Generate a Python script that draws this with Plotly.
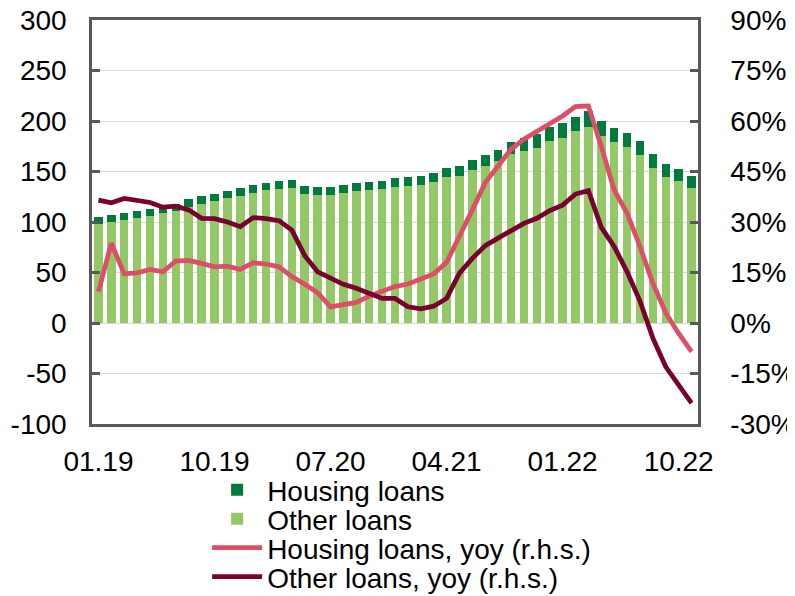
import plotly.graph_objects as go

months = ["%02d.%02d" % (m, y) for y in range(19, 23) for m in range(1, 13)][:47]
tick_labels = ["01.19", "10.19", "07.20", "04.21", "01.22", "10.22"]
left_ticks = [-100, -50, 0, 50, 100, 150, 200, 250, 300]
left_text = ["-100", "-50", "0", "50", "100", "150", "200", "250", "300"]
right_ticks = [-30, -15, 0, 15, 30, 45, 60, 75, 90]
right_text = ["-30%", "-15%", "0%", "15%", "30%", "45%", "60%", "75%", "90%"]

other_loans = [98, 100, 101.6, 104, 106, 108.5, 111, 115, 118, 121, 123.4, 125.7,
               129, 131.4, 132.7, 133.3, 127.4, 126.7, 126.7, 128.4, 130.7, 131.7, 132.7, 135,
               136, 137, 140, 144.2, 145.9, 151.5, 155.8, 160.7, 167, 170.6, 173.6, 180.2,
               183.5, 189.8, 194.4, 184.8, 178.9, 174.6, 166.7, 153.8, 144.9, 140.6, 133.3]
housing_loans = [7, 7, 7, 7, 7, 7, 7, 7.5, 7.4, 7, 7.6, 7.6,
                 8, 7.6, 7.9, 8.3, 7.9, 7.9, 7.9, 7.9, 7.9, 8.3, 8.3, 8.6,
                 8.2, 8.9, 8.5, 8.9, 9.9, 9.9, 10.9, 10.9, 11.9, 12.2, 13.9, 13.8,
                 14.8, 14.5, 15.2, 14.8, 13.8, 13.8, 13.2, 13.2, 12.8, 11.9, 11.9]
housing_yoy = [9.3, 23.7, 14.6, 14.9, 15.9, 15.2, 18.4, 18.6, 17.7, 16.7, 16.9, 15.9,
               17.9, 17.5, 16.7, 13.8, 11.5, 9, 4.8, 5.6, 6.1, 8, 9.3, 10.8,
               11.6, 13, 14.6, 18, 25.6, 33.6, 41.7, 46.4, 51.6, 54.6, 56.8, 59,
               61.5, 64.3, 64.5, 52.4, 39.5, 32.6, 22.7, 11.8, 3, -3.1, -8.5]
other_yoy = [36.5, 35.7, 37, 36.5, 35.8, 34.4, 34.7, 33.6, 31.1, 31, 30, 28.6,
             31.3, 31, 30.4, 27.6, 20, 15.2, 13.3, 11.5, 10.3, 8.8, 7.3, 7.3,
             4.8, 4.2, 5, 7.3, 14.8, 19.2, 23, 25.2, 27.6, 29.6, 31.1, 33.4,
             35, 38.3, 39.3, 28.4, 22.7, 15.2, 6.5, -4.5, -13, -18.4, -23.8]

DARK_GREEN = "#007A3D"
LIGHT_GREEN = "#92C865"
PINK = "#DE4E66"
MAROON = "#7A0030"
AXIS = "#595959"

fig = go.Figure()
fig.add_trace(go.Bar(x=months, y=other_loans, name="Other loans",
                     marker=dict(color=LIGHT_GREEN, line_width=0), legend="legend2"))
fig.add_trace(go.Bar(x=months, y=housing_loans, name="Housing loans",
                     marker=dict(color=DARK_GREEN, line_width=0), legend="legend"))
fig.add_trace(go.Scatter(x=months, y=housing_yoy, name="Housing loans, yoy (r.h.s.)",
                         mode="lines", line=dict(color=PINK, width=4.75), yaxis="y2",
                         legend="legend3"))
fig.add_trace(go.Scatter(x=months, y=other_yoy, name="Other loans, yoy (r.h.s.)",
                         mode="lines", line=dict(color=MAROON, width=4.75), yaxis="y2",
                         legend="legend4"))

def legend_at(y):
    # one legend per row so the rows can sit as tightly as in the reference
    return dict(x=0.190, y=y, xanchor="left", yanchor="middle",
                bgcolor="rgba(0,0,0,0)", itemwidth=50, visible=True,
                font=dict(size=28, color="black"))

# the page body adds an 8px margin, so the figure is 8px smaller than the window
fig.update_layout(
    template="none",
    width=787, height=588,
    margin=dict(l=84, r=97, t=12, b=172, autoexpand=False),
    paper_bgcolor="white", plot_bgcolor="white",
    font=dict(family="Liberation Sans, Arial, sans-serif", size=28, color="black"),
    barmode="stack", bargap=0.34,
    showlegend=True,
    legend=legend_at(-0.1634),
    legend2=legend_at(-0.2351),
    legend3=legend_at(-0.3069),
    legend4=legend_at(-0.3787),
    xaxis=dict(type="category", range=[-0.5, len(months) - 0.5],
               tickmode="array", tickvals=tick_labels, ticktext=tick_labels,
               showgrid=False, ticks="", showline=True, linecolor=AXIS, linewidth=2.5,
               mirror=True, ticklabelstandoff=11, automargin=False,
               ticklabeloverflow="allow"),
    yaxis=dict(range=[-100, 300], tickmode="array", tickvals=left_ticks,
               ticktext=left_text, showgrid=True, gridcolor="#D9D9D9",
               gridwidth=1, zeroline=False, showline=True, linecolor=AXIS,
               linewidth=2.5, ticks="inside", ticklen=8, tickwidth=2.5,
               tickcolor=AXIS, ticklabelstandoff=17, automargin=False,
               ticklabeloverflow="allow"),
    yaxis2=dict(range=[-30, 90], tickmode="array", tickvals=right_ticks,
                ticktext=right_text, overlaying="y", side="right", showgrid=False,
                zeroline=False, showline=True, linecolor=AXIS, linewidth=2.5,
                ticks="inside", ticklen=8, tickwidth=2.5, tickcolor=AXIS,
                ticklabelstandoff=24, automargin=False,
                ticklabeloverflow="allow"),
)

fig.write_html("out.html")
